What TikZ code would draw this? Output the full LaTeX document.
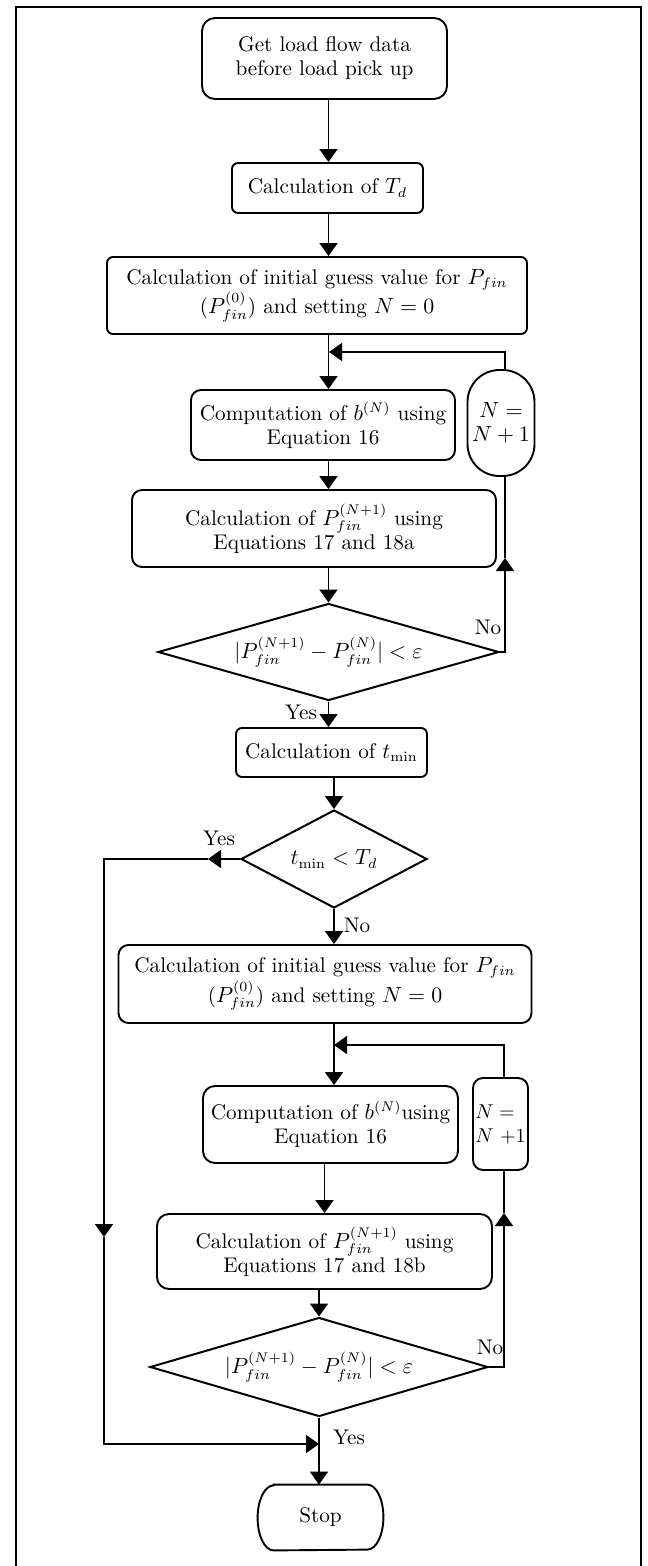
\documentclass[tikz,border=0pt]{standalone}
\usetikzlibrary{shapes.geometric,arrows.meta}
\begin{document}
\begin{tikzpicture}[x=0.5pt,y=-0.5pt,
  txt/.style={font=\fontsize{10.6}{12}\selectfont},
  box/.style={txt,draw,line width=0.95pt,align=center,inner sep=0pt},
  decision/.style={txt,draw,diamond,line width=1pt,inner sep=0pt,shape aspect=3},
  conn/.style={line width=0.9pt},
  arr/.style={conn,-{Triangle[length=6.5pt,width=9pt]}},
  lbl/.style={txt,inner sep=0pt},
  frame/.style={line width=0.6pt}]

\useasboundingbox (0,0) rectangle (647,1566);
\draw[frame] (16,1566) -- (16,7) -- (641,7) -- (641,1566);

% ---- first stage -------------------------------------------------
\node[box,rounded corners=6.5pt,minimum width=122.5pt,minimum height=40.5pt]
  (start) at (324.5,58.5) {Get load flow data\\before load pick up};
\node[box,rounded corners=3pt,minimum width=95.5pt,minimum height=25pt]
  (td) at (327.5,188) {Calculation of $T_d$};
\node[box,rounded corners=3pt,minimum width=210pt,minimum height=38.5pt]
  (init1) at (317,295.5)
  {Calculation of initial guess value for $P_{fin}$\\($P_{fin}^{(0)}$) and setting $N=0$};
\node[box,rounded corners=5pt,minimum width=132pt,minimum height=35pt]
  (bn1) at (323,425) {Computation of $b^{(N)}$ using\\Equation 16};
\node[box,rounded corners=16pt,minimum width=33.5pt,minimum height=53pt]
  (inc1) at (501,423) {$N=$\\$N+1$};
\node[box,rounded corners=5pt,minimum width=182pt,minimum height=38.5pt]
  (pf1) at (314,528.5) {Calculation of $P_{fin}^{(N+1)}$ using\\Equations 17 and 18a};
\node[decision,minimum width=170.5pt,minimum height=48.5pt]
  (conv1) at (328.5,652) {$|P_{fin}^{(N+1)}-P_{fin}^{(N)}|<\varepsilon$};
\node[box,rounded corners=3pt,minimum width=95.5pt,minimum height=24.5pt]
  (tmin) at (331.5,752.5) {Calculation of $t_{\min}$};
\node[decision,minimum width=93pt,minimum height=49pt,shape aspect=1.9]
  (cmp) at (334,859) {$t_{\min}<T_d$};

% ---- second stage ------------------------------------------------
\node[box,rounded corners=5pt,minimum width=206.5pt,minimum height=39pt]
  (init2) at (325,984)
  {Calculation of initial guess value for $P_{fin}$\\($P_{fin}^{(0)}$) and setting $N=0$};
\node[box,rounded corners=6pt,minimum width=127.5pt,minimum height=38.5pt]
  (bn2) at (330.5,1124.5) {Computation of $b^{(N)}$using\\Equation 16};
\node[box,rounded corners=5pt,minimum width=27.5pt,minimum height=46pt,
      align=left,font=\fontsize{10}{12}\selectfont]
  (inc2) at (500.5,1124) {$N=$\\$N$ +1};
\node[box,rounded corners=6pt,minimum width=167.5pt,minimum height=37.5pt]
  (pf2) at (324.5,1251.5) {Calculation of $P_{fin}^{(N+1)}$ using\\Equations 17 and 18b};
\node[decision,minimum width=169pt,minimum height=49.5pt]
  (conv2) at (319,1367) {$|P_{fin}^{(N+1)}-P_{fin}^{(N)}|<\varepsilon$};
\node[txt,inner sep=0pt,minimum width=62.5pt,minimum height=32.5pt]
  (stop) at (320.5,1517.5) {Stop};
\draw[line width=0.95pt]
  ([xshift=8pt]stop.north west) -- ([xshift=-8pt]stop.north east)
  arc[start angle=90,end angle=-90,x radius=8pt,y radius=16.25pt]
  -- ([xshift=8pt]stop.south west)
  arc[start angle=270,end angle=90,x radius=8pt,y radius=16.25pt] -- cycle;

% ---- helper points for the connectors ----------------------------
\coordinate (col) at (328.5,0);
\coordinate (join1) at (329,352);
\coordinate (loop1) at (505,0);
\coordinate (up1) at (505,558);
\coordinate (join2) at (334,1045);
\coordinate (loop2) at (504,0);
\coordinate (up2) at (504,1213);
\coordinate (left1) at (208,859);
\coordinate (down1) at (104,1237);
\coordinate (join3) at (319,1444);

% ---- main flow ---------------------------------------------------
\draw[arr] (start.south -| col) -- (td.north -| col);
\draw[arr] (td.south -| col) -- (init1.north -| col);
\draw[arr] (init1.south -| col) -- (bn1.north -| col);
\draw[arr] (bn1.south -| col) -- (pf1.north -| col);
\draw[arr] (pf1.south -| conv1) -- (conv1.north);
\draw[arr] (conv1.south) -- (tmin.north -| conv1);
\draw[arr] (tmin.south -| cmp) -- (cmp.north);
\draw[arr] (cmp.south) -- (init2.north -| cmp);
\draw[arr] (init2.south -| cmp) -- (bn2.north -| cmp);
\draw[arr] (bn2.south -| pf2) -- (pf2.north);
\draw[arr] (pf2.south -| conv2) -- (conv2.north);
\draw[arr] (conv2.south) -- (stop.north -| conv2);

% ---- first iteration loop ----------------------------------------
\draw[arr] (conv1.east) -| (up1);
\draw[conn] (up1) -- (inc1.south -| loop1);
\draw[arr] (inc1.north -| loop1) |- (join1);

% ---- second iteration loop ---------------------------------------
\draw[arr] (conv2.east) -| (up2);
\draw[conn] (up2) -- (inc2.south -| loop2);
\draw[arr] (inc2.north -| loop2) |- (join2);

% ---- bypass when t_min < T_d -------------------------------------
\draw[arr] (cmp.west) -- (left1);
\draw[arr] (left1) -| (down1);
\draw[arr] (down1) |- (join3);

% ---- branch labels -----------------------------------------------
\node[lbl] (no1) at (488,627) {No};
\node[lbl] (yes1) at (301,712) {Yes};
\node[lbl] (yes2) at (219,838) {Yes};
\node[lbl] (no2) at (357,925) {No};
\node[lbl] (no3) at (490,1347) {No};
\node[lbl] (yes3) at (349,1437) {Yes};
\end{tikzpicture}
\end{document}
